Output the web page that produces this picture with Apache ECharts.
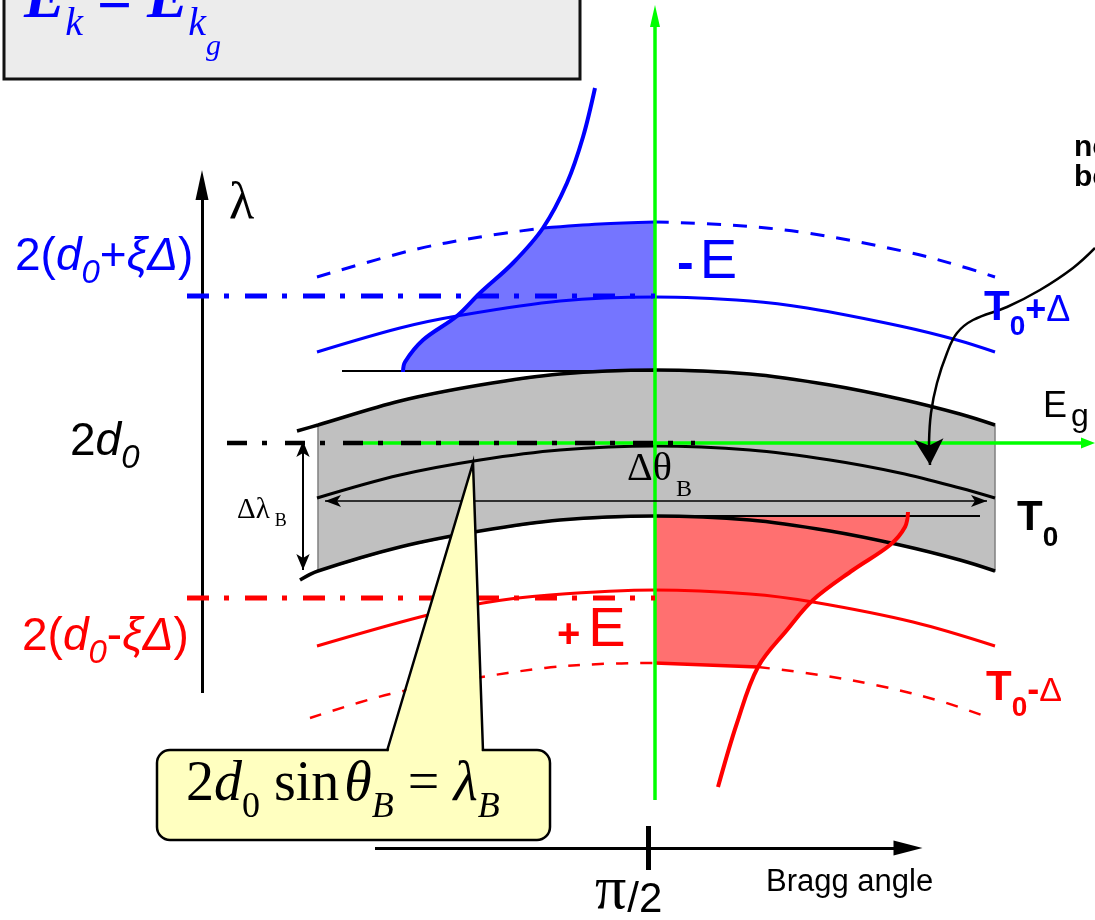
<!DOCTYPE html>
<html>
<head>
<meta charset="utf-8">
<title>Ángulo de Bragg</title>
<script src="https://cdn.jsdelivr.net/npm/echarts@6/dist/echarts.min.js"></script>
<style>
  html, body { margin: 0; padding: 0; background: #fff; }
  #grafico { width: 1095px; height: 920px; }
</style>
</head>
<body>
<div id="grafico"></div>
<script>
// Eje x: desplazamiento del ángulo de Bragg respecto a π/2 (unidades arbitrarias)
// Eje y: λ relativo a 2d0 (unidades arbitrarias)

// Banda gris: borde superior, curva de Bragg (T0) y borde inferior
var bandaSuperior = [[-3.58, 0.12], [-3.37, 0.18], [-2.55, 0.42], [-1.75, 0.58], [-0.95, 0.69], [0, 0.73], [0.95, 0.69], [1.75, 0.58], [2.45, 0.44], [3.05, 0.29], [3.40, 0.18]];
var curvaBragg = [[-3.38, -0.55], [-2.55, -0.32], [-1.75, -0.17], [-0.95, -0.07], [0, -0.03], [0.95, -0.07], [1.75, -0.17], [2.45, -0.30], [3.05, -0.45], [3.40, -0.55]];
var bandaInferior = [[-3.55, -1.37], [-3.37, -1.28], [-2.55, -1.04], [-1.75, -0.88], [-0.95, -0.77], [0, -0.73], [0.95, -0.77], [1.75, -0.88], [2.45, -1.02], [3.05, -1.17], [3.40, -1.28]];

// T0+Δ (azul)
var azulSuperior = [[-3.38, 1.66], [-2.42, 1.93], [-1.75, 2.06], [-1.12, 2.15], [-0.55, 2.19], [0, 2.21], [0.75, 2.18], [1.52, 2.10], [2.52, 1.91], [3.05, 1.77], [3.40, 1.66]];
var azulT0 = [[-3.38, 0.91], [-2.55, 1.15], [-1.98, 1.27], [-0.95, 1.42], [0, 1.46], [0.95, 1.42], [1.52, 1.35], [2.45, 1.17], [3.02, 1.03], [3.40, 0.91]];
var azulCampoE = [[-2.52, 0.71], [-2.50, 0.81], [-2.32, 1.03], [-1.98, 1.27], [-1.75, 1.50], [-1.42, 1.80], [-1.12, 2.15], [-0.88, 2.60], [-0.72, 3.06], [-0.60, 3.55]];
var azulNivel = [[-4.68, 1.47], [0, 1.47]];
var azulBase = [[-3.13, 0.72], [0, 0.72]];

// T0-Δ (rojo)
var rojoT0 = [[-3.38, -2.03], [-2.35, -1.74], [-1.72, -1.60], [-1.05, -1.52], [0, -1.47], [0.95, -1.51], [1.58, -1.59], [2.58, -1.79], [3.40, -2.03]];
var rojoInferior = [[-3.45, -2.75], [-2.65, -2.51], [-1.85, -2.36], [-1.10, -2.25], [-0.55, -2.21], [0, -2.20], [1.03, -2.24], [1.65, -2.32], [2.25, -2.43], [2.85, -2.58], [3.35, -2.75]];
var rojoCampoE = [[2.53, -0.69], [2.50, -0.84], [2.35, -1.02], [1.98, -1.27], [1.58, -1.57], [1.32, -1.87], [1.03, -2.24], [0.82, -2.80], [0.63, -3.44]];
var rojoNivel = [[-4.68, -1.55], [0, -1.55]];
var rojoTope = [[0, -0.73], [3.25, -0.73]];

// Nivel 2d0 y flechas
var nivel2d0 = [[-4.28, 0], [0.40, 0]];
var ejeLambda = [[-4.53, -2.50], [-4.53, 2.58]];
var ejeBragg = [[-2.80, -4.05], [2.53, -4.05]];
var marcaPi2 = [[-0.07, -3.83], [-0.07, -4.27]];
var verdeVertical = [[0, -3.57], [0, 4.27]];
var verdeHorizontal = [[-3.12, 0], [4.33, 0]];
var deltaTheta = [[-3.30, -0.58], [3.32, -0.58]];
var deltaLambda = [[-3.52, 0.02], [-3.52, -1.27]];
var curvaFlecha = [[4.40, 1.95], [4.18, 1.75], [3.85, 1.53], [3.52, 1.36], [3.18, 1.23], [3.02, 1.10], [2.92, 0.90], [2.82, 0.60], [2.76, 0.30], [2.74, 0.00]];
var puntaFlecha = [[2.74, 0.00], [2.75, -0.22]];

var etiquetasEje = ['π', '/2', 'Bragg angle'];

var grafico = echarts.init(document.getElementById('grafico'), null, { renderer: 'canvas' });

function poligono(puntos, estilo) {
    return {
        type: 'custom', silent: true, data: puntos, clip: false,
        renderItem: function (params, api) {
            if (params.dataIndex !== 0) return;
            return {
                type: 'polygon',
                shape: { points: puntos.map(function (p) { return api.coord(p); }) },
                style: estilo
            };
        }
    };
}

function linea(datos, color, ancho, tipo, suave, z) {
    return {
        type: 'line', data: datos, symbol: 'none', showSymbol: false, silent: true, z: z || 2,
        smooth: suave === undefined ? 0.35 : suave,
        lineStyle: { color: color, width: ancho, type: tipo || 'solid', cap: 'butt' }
    };
}

function flecha(tramo, color, ancho, simbolos, tam, z) {
    return {
        type: 'line', data: [], silent: true,
        markLine: {
            silent: true, symbol: simbolos, symbolSize: tam, animation: false, z: z || 5,
            label: { show: false }, emphasis: { disabled: true },
            lineStyle: { color: color, width: ancho, type: 'solid' },
            data: [[{ coord: tramo[0] }, { coord: tramo[1] }]]
        }
    };
}

// Texto con subíndices: cada pieza se coloca a continuación de la anterior
var medidor = document.createElement('canvas').getContext('2d');
var familias = { sans: 'Liberation Sans', serif: 'Liberation Serif' };
function texto(x, base, color, piezas) {
    var elementos = [];
    var cx = x;
    piezas.forEach(function (p) {
        var fuente = (p.i ? 'italic ' : '') + (p.b ? 'bold ' : '') + p.s + 'px "' + familias[p.f || 'sans'] + '"';
        var escala = p.sx || 1;
        medidor.font = fuente;
        cx += p.dx || 0;
        elementos.push({
            type: 'text', z: 110, x: cx, y: base + (p.dy || 0) - 0.345 * p.s, scaleX: escala,
            style: { text: p.t, font: fuente, fill: p.c || color, textAlign: 'left', textVerticalAlign: 'middle' }
        });
        cx += medidor.measureText(p.t).width * escala;
    });
    return elementos;
}

var azul = '#0000ff', rojo = '#ff0000', verde = '#00ff00', negro = '#000000';
var guionPunto = [22, 15, 5, 16];

var series = [
    poligono(bandaSuperior.slice(1).concat(bandaInferior.slice(1).reverse()), { fill: '#c0c0c0', stroke: '#808080', lineWidth: 1.5 }),
    poligono([[0, 0.72]].concat(azulCampoE.slice(0, 7), azulSuperior.slice(4, 6)), { fill: '#7575ff' }),
    poligono([[0, -0.73], [2.50, -0.73]].concat(rojoCampoE.slice(1, 7), [[0, -2.20]]), { fill: '#ff7070' }),
    linea(azulBase, negro, 2, 'solid', false),
    linea(rojoTope, negro, 2, 'solid', false),
    linea(bandaSuperior, negro, 3.5),
    linea(curvaBragg, negro, 3),
    linea(bandaInferior, negro, 3.5),
    linea(azulSuperior.slice(0, 4), azul, 3, [14, 12]),
    linea(azulSuperior.slice(3, 6), azul, 3),
    linea(azulSuperior.slice(5), azul, 3, [14, 12]),
    linea(azulT0, azul, 3),
    linea(rojoT0, rojo, 3),
    linea(rojoInferior.slice(0, 6), rojo, 2.5, [12, 12]),
    linea(rojoInferior.slice(5, 7), rojo, 3.5),
    linea(rojoInferior.slice(6), rojo, 2.5, [12, 12]),
    linea(azulCampoE, azul, 4),
    linea(rojoCampoE, rojo, 4),
    flecha(verdeVertical, verde, 3.5, ['none', 'triangle'], [10, 22], 3),
    flecha(verdeHorizontal, verde, 3.5, ['none', 'triangle'], [11, 14], 3),
    linea(nivel2d0, negro, 4.5, [20, 15, 5, 18], false, 6),
    linea(azulNivel, azul, 5, guionPunto, false, 6),
    linea(rojoNivel, rojo, 5, guionPunto, false, 6),
    flecha(ejeLambda, negro, 3, ['none', 'triangle'], [13, 30]),
    flecha(ejeBragg, negro, 3, ['none', 'triangle'], [15, 29]),
    flecha(marcaPi2, negro, 5, ['none', 'none'], 1),
    flecha(deltaTheta, negro, 1.5, ['arrow', 'arrow'], [9, 16]),
    flecha(deltaLambda, negro, 2, ['arrow', 'arrow'], [10, 16]),
    linea(curvaFlecha, negro, 2.5, 'solid', 0.4, 5),
    flecha(puntaFlecha, negro, 2.5, ['none', 'arrow'], [22, 26])
];

var graficos = [
    // recuadro superior con la condición E_k = E_kg
    { type: 'rect', z: 100, shape: { x: 4, y: -10, width: 576, height: 89 }, style: { fill: '#ececec', stroke: '#111', lineWidth: 3 } },
    // globo de la ley de Bragg
    { type: 'rect', z: 100, shape: { x: 157, y: 750, width: 393, height: 90, r: 13 }, style: { fill: '#ffffc0', stroke: '#000', lineWidth: 2.5 } },
    { type: 'polygon', z: 101, shape: { points: [[388, 753], [473, 463], [482, 753]] }, style: { fill: '#ffffc0' } },
    { type: 'polyline', z: 102, shape: { points: [[387, 751], [473, 463], [483, 751]] }, style: { stroke: '#000', lineWidth: 2.5, fill: null } }
];

graficos = graficos.concat(
    texto(24, 22, azul, [{ t: 'E', s: 62, f: 'serif', i: 1, b: 1 }, { t: 'k', s: 40, f: 'serif', i: 1, dy: 16 }]),
    texto(97, 24, azul, [{ t: '=', s: 62, f: 'serif', b: 1 }]),
    texto(147, 22, azul, [{ t: 'E', s: 62, f: 'serif', i: 1, b: 1 }, { t: 'k', s: 40, f: 'serif', i: 1, dy: 16 }, { t: 'g', s: 30, f: 'serif', i: 1, dy: 35 }]),
    texto(229, 222, negro, [{ t: 'λ', s: 52, f: 'serif' }]),
    texto(15, 273, azul, [{ t: '2(', s: 46 }, { t: 'd', s: 46, i: 1 }, { t: '0', s: 33, i: 1, dy: 12 }, { t: '+', s: 46 }, { t: 'ξΔ', s: 46, i: 1 }, { t: ')', s: 46 }]),
    texto(70, 458, negro, [{ t: '2', s: 46 }, { t: 'd', s: 46, i: 1 }, { t: '0', s: 33, i: 1, dy: 12 }]),
    texto(22, 653, rojo, [{ t: '2(', s: 46 }, { t: 'd', s: 46, i: 1 }, { t: '0', s: 33, i: 1, dy: 12 }, { t: '-', s: 46 }, { t: 'ξΔ', s: 46, i: 1 }, { t: ')', s: 46 }]),
    texto(677, 282, azul, [{ t: '-', s: 50, b: 1 }, { t: 'E', s: 56, dx: 6 }]),
    texto(557, 650, rojo, [{ t: '+', s: 40, b: 1 }, { t: 'E', s: 56, dx: 8 }]),
    texto(984, 323, azul, [{ t: 'T', s: 42, b: 1 }, { t: '0', s: 28, b: 1, dy: 14 }, { t: '+', s: 36, b: 1 }, { t: 'Δ', s: 36 }]),
    texto(1017, 533, negro, [{ t: 'T', s: 42, b: 1 }, { t: '0', s: 28, b: 1, dy: 15 }]),
    texto(986, 703, rojo, [{ t: 'T', s: 42, b: 1 }, { t: '0', s: 28, b: 1, dy: 15 }, { t: '-', s: 36, b: 1 }, { t: 'Δ', s: 34 }]),
    texto(1043, 419, negro, [{ t: 'E', s: 36 }, { t: 'g', s: 32, dy: 9, dx: 4 }]),
    texto(627, 483, negro, [{ t: 'Δθ', s: 40, f: 'serif' }, { t: 'B', s: 24, f: 'serif', dy: 15, dx: 4 }]),
    texto(237, 520, negro, [{ t: 'Δλ', s: 29, f: 'serif' }, { t: 'B', s: 18, f: 'serif', dy: 7, dx: 5 }]),
    texto(186, 805, negro, [{ t: '2', s: 56, f: 'serif' }, { t: 'd', s: 56, f: 'serif', i: 1 }, { t: '0', s: 36, f: 'serif', dy: 15 }, { t: ' sin', s: 56, f: 'serif' }, { t: 'θ', s: 56, f: 'serif', i: 1, dx: 5 }, { t: 'B', s: 36, f: 'serif', i: 1, dy: 15 }, { t: ' = ', s: 56, f: 'serif' }, { t: 'λ', s: 56, f: 'serif', i: 1 }, { t: 'B', s: 36, f: 'serif', i: 1, dy: 15 }]),
    texto(595, 913, negro, [{ t: etiquetasEje[0], s: 62, f: 'serif' }, { t: etiquetasEje[1], s: 42, dy: 2, dx: 1 }]),
    texto(766, 893, negro, [{ t: etiquetasEje[2], s: 31 }]),
    texto(1074, 158, negro, [{ t: 'ne', s: 30, b: 1 }]),
    texto(1074, 188, negro, [{ t: 'be', s: 30, b: 1 }])
);

grafico.setOption({
    animation: false,
    backgroundColor: '#ffffff',
    grid: { left: 0, right: 0, top: 0, bottom: 0 },
    xAxis: { type: 'value', min: -6.55, max: 4.40, show: false },
    yAxis: { type: 'value', min: -4.77, max: 4.43, show: false },
    series: series,
    graphic: graficos
});
</script>
</body>
</html>
